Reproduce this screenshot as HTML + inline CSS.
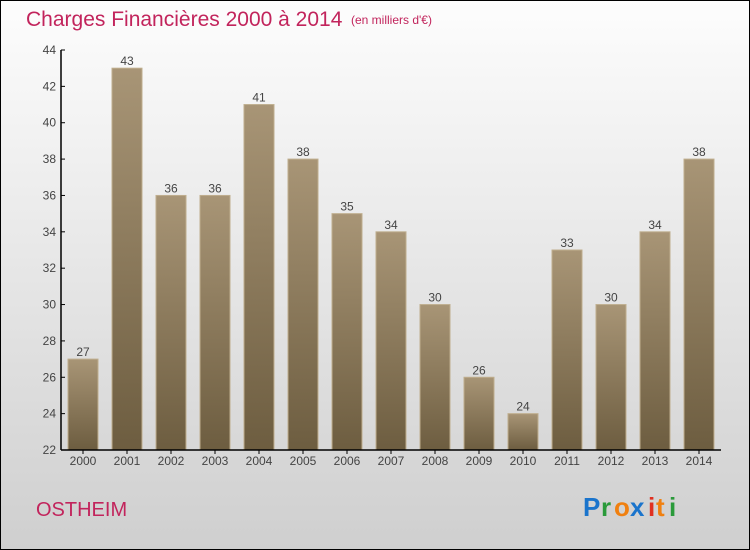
<!DOCTYPE html>
<html><head><meta charset="utf-8"><style>
body{margin:0}
#c{width:750px;height:550px;position:relative;box-sizing:border-box;border:1px solid #000;background:linear-gradient(#fdfdfd,#cfcfcf);font-family:"Liberation Sans",sans-serif;overflow:hidden}
</style></head><body>
<div id="c">
<svg width="750" height="550" style="position:absolute;left:-1px;top:-1px">
<defs><linearGradient id="g" x1="0" y1="0" x2="0" y2="1"><stop offset="0" stop-color="#a89576"/><stop offset="1" stop-color="#6d5d40"/></linearGradient></defs>
<text x="26" y="26" font-size="21" fill="#c2245c">Charges Financières 2000 à 2014</text>
<text x="351" y="24" font-size="12" fill="#c2245c">(en milliers d'€)</text>
<text x="36" y="516" font-size="20" fill="#c2245c">OSTHEIM</text>
<g font-size="26" font-weight="bold">
<text x="583" y="516" fill="#1a74cc">P</text><text x="601" y="516" fill="#2a9a3a">r</text><text x="614" y="516" fill="#f08010">o</text><text x="630" y="516" fill="#1a74cc">x</text><text x="648" y="516" fill="#e03020">i</text><text x="656" y="516" fill="#f08010">t</text><text x="669" y="516" fill="#2a9a3a">i</text></g>
<g id="plot"></g>
</svg>
</div>
<script>
const categories=["2000","2001","2002","2003","2004","2005","2006","2007","2008","2009","2010","2011","2012","2013","2014"];
const values=[27,43,36,36,41,38,35,34,30,26,24,33,30,34,38];
const yTicks=[22,24,26,28,30,32,34,36,38,40,42,44];
const yMin=22,yMax=44,x0=61,band=44,yTop=50,yBot=450;
const ys=v=>yBot-(v-yMin)/(yMax-yMin)*(yBot-yTop);
const xs=i=>x0+band*i+band/2;
const NS="http://www.w3.org/2000/svg",p=document.getElementById('plot');
function mk(t,a,txt){const e=document.createElementNS(NS,t);for(const k in a)e.setAttribute(k,a[k]);if(txt!=null)e.textContent=txt;p.appendChild(e);return e;}
values.forEach((v,i)=>{
const r=mk('rect',{x:xs(i)-15,y:ys(v),width:30,height:yBot-ys(v),fill:'url(#g)',stroke:'#bfae8e','stroke-width':1});


const t=mk('text',{x:xs(i),y:ys(v)-3,'font-size':12,fill:'#444','text-anchor':'middle'},v);


const c=mk('text',{x:xs(i),y:yBot+15,'font-size':12,fill:'#444','text-anchor':'middle'},categories[i]);


mk('line',{x1:xs(i),x2:xs(i),y1:yBot,y2:yBot+4,stroke:'#000'});
});
yTicks.forEach(v=>{
const t=mk('text',{x:x0-5,y:ys(v)+4,'font-size':12,fill:'#444','text-anchor':'end'},v);


mk('line',{x1:x0,x2:x0+4,y1:ys(v),y2:ys(v),stroke:'#000'});
});
const ya=mk('line',{x1:x0,x2:x0,y1:yTop,y2:yBot,stroke:'#000','stroke-width':1.5});


const xa=mk('line',{x1:x0,x2:x0+band*15,y1:yBot,y2:yBot,stroke:'#000','stroke-width':1.5});


</script>
</body></html>
